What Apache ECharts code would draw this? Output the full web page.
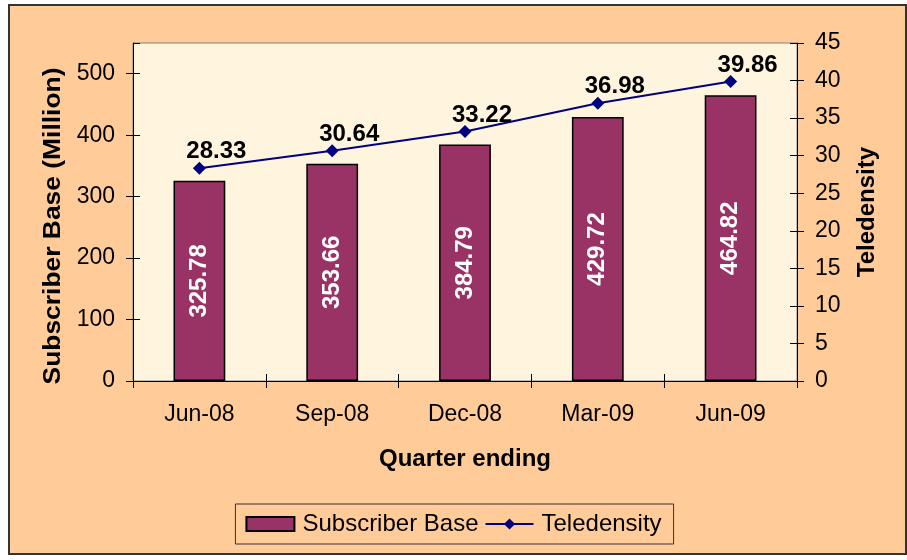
<!DOCTYPE html>
<html>
<head>
<meta charset="utf-8">
<script src="https://cdn.jsdelivr.net/npm/echarts@6/dist/echarts.min.js"></script>
<style>
html,body{margin:0;padding:0;background:#fff;}
#frame{position:absolute;left:8px;top:4px;width:895px;height:547px;background:#FFCC99;border:2px solid #333;box-sizing:content-box;}
#chart{position:absolute;left:0;top:0;width:907px;height:560px;}
</style>
</head>
<body>
<div id="frame"></div>
<div id="chart"></div>
<script>
const categories = ['Jun-08', 'Sep-08', 'Dec-08', 'Mar-09', 'Jun-09'];
const subscriberBase = [325.78, 353.66, 384.79, 429.72, 464.82];
const teledensity = [28.33, 30.64, 33.22, 36.98, 39.86];
const leftAxisName = 'Subscriber Base (Million)';
const rightAxisName = 'Teledensity';
const xAxisName = 'Quarter ending';

const font = 'Arial, "Liberation Sans", sans-serif';
const chart = echarts.init(document.getElementById('chart'), null, {renderer: 'canvas'});

const leftY = {min: 0, max: 550, interval: 100};
const rightY = {min: 0, max: 45, interval: 5};

chart.setOption({
  backgroundColor: 'transparent',
  animation: false,
  textStyle: {fontFamily: font},
  grid: {left: 133, right: 110, top: 43, bottom: 179, show: true, backgroundColor: '#FFF4DE', borderColor: '#808080', borderWidth: 1},
  legend: {
    left: 'center', top: 504,
    data: [{name: 'Subscriber Base', icon: 'rect'}, {name: 'Teledensity'}],
    itemWidth: 48, itemHeight: 14, itemGap: 6,
    padding: [8, 12, 8, 10],
    borderColor: '#333', borderWidth: 1,
    textStyle: {fontSize: 24, color: '#000', fontFamily: font, padding: [0, 0, 0, 3]}
  },
  xAxis: [{
    type: 'category', data: categories, position: 'bottom',
    axisLine: {lineStyle: {color: '#000', width: 1}},
    axisTick: {show: true, length: 7, lineStyle: {color: '#000'}},
    axisLabel: {fontSize: 23, color: '#000', margin: 22, fontFamily: font},
    name: xAxisName, nameLocation: 'middle', nameGap: 66,
    nameTextStyle: {fontSize: 24, fontWeight: 'bold', color: '#000', fontFamily: font}
  }, {
    type: 'category', data: categories, position: 'bottom',
    axisLine: {show: false},
    axisTick: {show: true, inside: true, length: 7, lineStyle: {color: '#000'}},
    axisLabel: {show: false}
  }],
  yAxis: [{
    type: 'value', position: 'left', min: leftY.min, max: leftY.max, interval: leftY.interval,
    axisLine: {show: true, lineStyle: {color: '#000', width: 1}},
    axisTick: {show: true, length: 7, lineStyle: {color: '#000'}},
    axisLabel: {fontSize: 23, color: '#000', margin: 18, showMaxLabel: false, fontFamily: font},
    splitLine: {show: false}
  }, {
    type: 'value', position: 'right', min: rightY.min, max: rightY.max, interval: rightY.interval,
    axisLine: {show: true, lineStyle: {color: '#000', width: 1}},
    axisTick: {show: true, length: 7, lineStyle: {color: '#000'}},
    axisLabel: {fontSize: 23, color: '#000', margin: 18, fontFamily: font},
    splitLine: {show: false},
    name: rightAxisName, nameLocation: 'middle', nameGap: 58, nameRotate: 90,
    nameTextStyle: {fontSize: 24, fontWeight: 'bold', color: '#000', fontFamily: font}
  }, {
    type: 'value', position: 'left', min: leftY.min, max: leftY.max, interval: leftY.interval,
    axisLine: {show: false},
    axisTick: {show: true, inside: true, length: 7, lineStyle: {color: '#000'}},
    axisLabel: {show: false}, splitLine: {show: false}
  }, {
    type: 'value', position: 'right', min: rightY.min, max: rightY.max, interval: rightY.interval,
    axisLine: {show: false},
    axisTick: {show: true, inside: true, length: 7, lineStyle: {color: '#000'}},
    axisLabel: {show: false}, splitLine: {show: false}
  }],
  graphic: [{
    type: 'text', x: 53, y: 226, rotation: Math.PI / 2, scaleX: 1.1,
    style: {text: leftAxisName, fill: '#000', font: 'bold 24px ' + font, align: 'center', verticalAlign: 'middle'}
  }],
  series: [{
    name: 'Subscriber Base', type: 'bar', xAxisIndex: 0, yAxisIndex: 0,
    data: subscriberBase, barWidth: '39%',
    itemStyle: {color: '#993366', borderColor: '#000', borderWidth: 1.5},
    label: {show: true, position: 'inside', rotate: 90, color: '#fff', fontSize: 24, fontWeight: 'bold', fontFamily: font,
      formatter: p => p.value.toFixed(2)}
  }, {
    name: 'Teledensity', type: 'line', xAxisIndex: 0, yAxisIndex: 1,
    data: teledensity, symbol: 'diamond', symbolSize: 13,
    lineStyle: {color: '#000080', width: 2}, itemStyle: {color: '#000080'},
    label: {show: true, position: 'top', distance: -2, offset: [17, 0], color: '#000', fontSize: 24, fontWeight: 'bold', fontFamily: font,
      formatter: p => p.value.toFixed(2)},
    z: 5
  }]
});
</script>
</body>
</html>
